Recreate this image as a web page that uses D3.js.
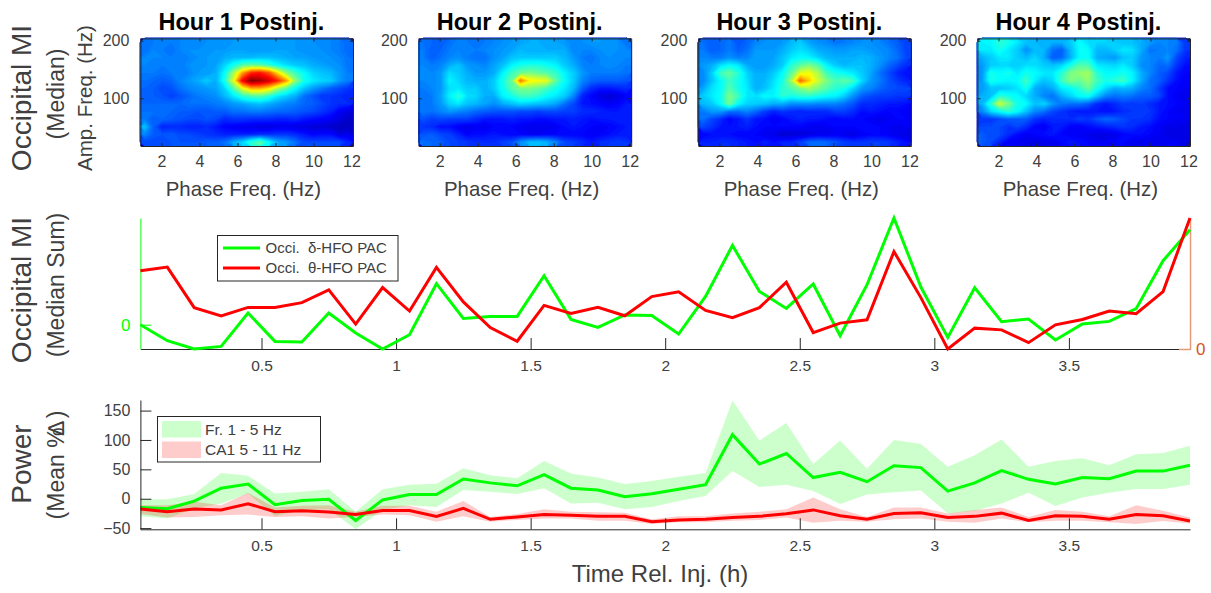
<!DOCTYPE html>
<html>
<head>
<meta charset="utf-8">
<script src="https://cdnjs.cloudflare.com/ajax/libs/d3/7.8.5/d3.min.js"></script>
<style>
html, body { margin: 0; background: #fff; }
svg { display: block; font-family: "Liberation Sans", sans-serif; }
.axis text { fill: #404040; }
.axis path, .axis line { stroke: #262626; }
</style>
</head>
<body>
<svg width="1211" height="593"></svg>
<script>
// heatmap cells, jet index 0-100, rows go top to bottom
const hour1 = [
  [24,25,25,25,26,26,26,27,27,27,28,28,28,28,28,28,28,28,27,27,26,26,25,23],
  [24,26,25,24,26,27,27,27,28,28,29,29,28,28,28,29,29,28,27,27,27,26,25,23],
  [26,26,26,25,25,26,27,28,28,30,31,31,31,32,32,31,30,29,29,28,27,27,26,24],
  [26,25,25,25,25,27,27,28,29,34,40,46,48,47,43,38,35,33,32,30,29,28,27,24],
  [25,25,24,25,25,26,28,28,30,38,54,72,84,86,80,66,52,44,38,34,32,31,28,25],
  [24,23,22,23,26,28,30,33,30,40,60,88,100,97,92,84,72,52,40,36,34,33,28,25],
  [23,22,20,21,24,26,27,28,29,34,46,60,70,70,65,54,46,38,32,28,25,22,20,18],
  [22,22,21,19,21,23,25,26,27,31,36,42,45,46,42,36,33,30,24,21,18,18,17,16],
  [23,23,23,23,23,24,24,24,25,26,28,29,31,32,30,28,26,25,23,22,20,18,17,17],
  [24,24,23,23,22,22,21,21,22,22,24,24,25,25,24,23,23,22,21,20,18,16,12,10],
  [25,22,23,22,21,20,20,21,20,17,18,18,17,17,17,16,16,17,15,14,13,12,10,8],
  [32,22,16,17,17,16,16,17,15,13,12,11,11,10,10,11,11,10,10,9,9,8,7,7],
  [26,22,21,22,20,20,19,18,17,16,16,16,16,17,17,18,18,17,15,13,14,14,10,11],
  [20,20,20,21,21,21,21,22,22,24,30,34,42,47,38,30,28,24,20,20,20,20,20,16]
];
const hour2 = [
  [24,23,22,24,26,25,24,25,26,27,28,29,30,30,29,29,28,26,27,28,28,27,27,24],
  [25,22,23,25,26,25,25,26,27,28,29,31,30,30,30,30,30,26,26,26,27,27,27,26],
  [25,22,24,26,27,25,24,24,27,29,32,33,33,33,33,33,31,28,25,24,26,27,26,26],
  [26,25,26,30,32,28,27,26,29,32,37,40,41,41,39,37,33,30,26,25,26,27,26,25],
  [27,26,28,35,33,30,28,28,30,37,44,48,50,48,46,43,37,33,28,25,25,25,25,24],
  [26,26,28,37,34,31,30,30,33,40,48,76,64,62,60,47,38,33,26,23,22,22,22,21],
  [25,26,28,35,36,33,33,30,33,39,46,50,50,48,44,40,36,31,22,17,15,15,16,17],
  [24,25,29,37,42,35,34,30,30,37,40,44,44,42,38,36,33,26,16,13,10,9,10,13],
  [24,25,28,34,36,32,31,29,27,30,32,34,33,32,31,29,24,20,15,14,13,12,13,15],
  [25,24,26,28,26,25,23,22,21,21,21,20,20,19,20,20,19,19,17,17,16,15,15,15],
  [21,19,20,19,19,19,17,15,15,15,16,15,15,14,14,15,15,16,15,14,15,15,16,16],
  [18,17,14,14,12,11,12,11,13,13,13,12,11,11,11,12,14,15,14,13,12,13,14,15],
  [21,22,20,19,16,13,14,14,15,14,13,13,12,12,13,13,13,13,13,12,13,14,15,15],
  [24,23,22,20,19,18,17,17,17,19,21,27,31,32,30,26,20,19,17,15,17,18,19,18]
];
const hour3 = [
  [24,22,23,25,21,23,26,27,27,28,31,33,29,27,26,24,25,26,27,27,26,24,22,19],
  [25,22,23,25,22,24,28,28,28,30,33,35,33,30,29,28,28,29,29,28,27,26,23,19],
  [26,25,25,27,25,26,29,28,29,32,36,38,37,34,31,30,30,30,31,30,28,26,24,20],
  [28,30,35,38,36,30,28,28,30,33,42,47,50,46,37,33,31,32,32,30,27,23,20,17],
  [26,33,44,48,42,34,30,30,33,38,47,60,62,55,44,40,38,36,33,29,24,20,16,14],
  [26,32,38,44,40,35,30,31,35,40,54,78,68,58,50,45,47,44,34,28,25,21,18,16],
  [29,35,38,46,40,36,30,32,36,42,46,50,54,50,46,42,40,34,28,26,23,21,20,20],
  [33,36,39,50,44,36,35,38,37,42,40,42,42,40,38,37,33,27,22,20,19,19,18,18],
  [31,33,38,49,38,34,33,32,30,30,27,27,27,26,26,26,24,21,17,17,16,15,15,14],
  [25,28,28,24,24,26,23,19,16,18,17,16,17,17,17,19,19,17,14,15,14,13,13,12],
  [24,20,17,13,15,18,15,14,12,13,15,16,15,15,14,13,14,14,13,12,11,12,13,13],
  [20,18,15,14,15,16,14,13,13,13,13,13,12,11,12,13,13,13,14,14,13,12,11,12],
  [13,14,14,14,13,13,13,11,11,8,9,9,10,11,11,12,11,10,12,13,13,12,11,10],
  [16,16,17,17,16,15,14,16,14,16,16,19,23,24,23,21,19,18,18,19,19,18,16,14]
];
const hour4 = [
  [37,38,42,40,36,32,31,30,30,30,33,38,35,34,34,33,32,32,30,28,26,26,25,18],
  [36,36,40,36,33,27,31,31,24,22,31,38,38,31,31,33,36,35,30,24,25,26,24,18],
  [30,33,36,36,33,31,34,30,22,23,30,38,39,30,29,28,32,33,28,26,25,28,20,16],
  [28,33,34,34,33,35,35,33,32,34,40,46,45,36,35,34,36,33,27,26,23,24,18,14],
  [27,40,38,40,36,40,38,36,36,42,50,52,54,42,38,38,40,37,30,26,22,20,15,13],
  [28,40,38,37,38,44,36,32,34,44,50,48,52,44,40,42,44,37,30,24,22,18,14,12],
  [28,32,32,33,35,40,30,28,30,36,38,42,48,40,34,30,31,30,26,24,19,14,13,12],
  [30,32,42,40,38,34,30,26,24,30,34,38,39,32,26,24,25,24,22,22,20,14,12,11],
  [30,42,58,50,40,38,32,34,28,25,24,24,22,17,15,17,19,18,19,17,15,14,13,12],
  [26,34,38,42,38,32,26,24,20,18,16,15,15,15,14,15,17,18,18,18,15,13,12,11],
  [18,18,20,22,22,22,18,16,17,17,17,19,18,21,23,22,20,18,18,17,14,13,12,12],
  [20,20,20,18,20,17,13,12,15,15,13,12,14,15,16,17,18,17,15,14,12,11,11,10],
  [22,20,20,17,14,12,13,14,15,13,12,12,11,10,10,11,13,14,14,13,12,10,10,10],
  [22,20,16,12,12,11,10,11,11,13,15,14,13,12,12,13,13,11,11,11,11,12,12,10]
];
const heatTitles = ["Hour 1 Postinj.", "Hour 2 Postinj.", "Hour 3 Postinj.", "Hour 4 Postinj."];
const phaseTicks = [2, 4, 6, 8, 10, 12];
const ampTicks = [100, 200];

const hours = [0.05,0.15,0.25,0.35,0.45,0.55,0.65,0.75,0.85,0.95,1.05,1.15,1.25,1.35,1.45,1.55,1.65,1.75,1.85,1.95,
  2.05,2.15,2.25,2.35,2.45,2.55,2.65,2.75,2.85,2.95,3.05,3.15,3.25,3.35,3.45,3.55,3.65,3.75,3.85,3.95];
const hourTicks = [0.5, 1, 1.5, 2, 2.5, 3, 3.5];

const deltaPac = [0,-16,-24.3,-21.7,11.7,-16.7,-17.3,11.7,-8.3,-24.3,-10,41,6.3,8.3,8.3,49,5.3,-2.7,9.7,9.3,
  -9.3,28.3,79.3,33.3,16.3,40.7,-11,40,106.7,37.7,-12.7,37,3,5.7,-15.3,0.7,3.3,16,64,95];
const thetaPac = [77.7,81.3,41,32.7,41.3,41.3,46,58.7,24.7,61,37.7,81,46.7,21.3,7.7,43.3,35.3,41.3,33,52,
  56.7,38.3,31,41,66.3,16.3,25.7,29,96.7,51,0,20.7,19,6.3,24,29.3,37.7,35,57,130];

const frMean = [-15,-17,-4,18,25,-10,-3,-1,-37,-2,7,7,33.5,27,22,41,18,15,3.5,8.5,
  16,24,109,59,77,36,45,29,56,53,13,27,48,33,25,36,34,47,47,57];
const frUpper = [-1,-1,8,44,39,9,12,16,-22,16,24,25.5,52,40,35,64,43,36,25,30,
  37.5,44,167,99,129,59,99,51,100,93,54.5,74,101,54.5,64,69,57,75.5,78,90];
const frLower = [-30,-33.5,-16.5,-8,9,-30,-19,-18,-52,-19,-11,-14,15,12,8,18,-8,-7,-18,-14,
  -4,4.5,47,20,24,13,-9,7,11,14,-25,-20.5,-8,10,-12.5,2,10,16.5,16.5,24];
const caMean = [-17.6,-22,-17.6,-19,-8.5,-22,-20.5,-22.7,-26.7,-20,-20,-30,-16.5,-35,-31,-26.7,-28,-30,-30,-39,
  -36,-35,-32,-30,-25.5,-19,-29,-35,-25,-24,-32,-30,-24.5,-37,-29,-30,-34.7,-26.7,-29,-38];
const caUpper = [-11,-11,-5,-11,10,-15,-12,-11,-22,-12,-12,-22,-4,-31,-26,-18,-22,-23,-24,-35,
  -30,-30,-25,-22,-18,2,-18,-31,-15,-15,-25,-19,-15,-31,-19,-22,-30,-11,-20.5,-32];
const caLower = [-26,-32,-31,-28,-27,-31,-30,-33.5,-31,-27,-28,-39,-30,-39,-36,-33.5,-33.5,-37.5,-37.5,-43,
  -40,-40,-37.5,-36,-32,-41,-37.5,-39,-35,-33.5,-39,-41,-33.5,-40,-37.5,-37.5,-40,-43,-38,-42];
const powerTicks = [-50, 0, 50, 100, 150];

const svg = d3.select("svg");

// matlab jet
const jet = d3.scaleLinear()
  .domain([0, 12.5, 37.5, 62.5, 87.5, 100])
  .range(["#000080", "#0000ff", "#00ffff", "#ffff00", "#ff0000", "#800000"])
  .clamp(true);

const heatLefts = [140.4, 418.6, 698.3, 977.4];
const heatW = 212.6, heatTop = 38.4, heatBottom = 146;
const ampY = d3.scaleLinear().domain([17, 204]).range([heatBottom, heatTop]);

function styleText(sel, size) {
  sel.selectAll("text").attr("font-size", size).attr("font-family", "Liberation Sans");
}

[hour1, hour2, hour3, hour4].forEach(function (cells, i) {
  const left = heatLefts[i];
  const phaseX = d3.scaleLinear().domain([0.89, 12.08]).range([left, left + heatW]);
  const cellX = d3.scaleLinear().domain([0, cells[0].length]).range([left, left + heatW]);
  const cellY = d3.scaleLinear().domain([0, cells.length]).range([heatTop, heatBottom]);
  const project = d3.geoTransform({
    point: function (x, y) { this.stream.point(cellX(x), cellY(y)); }
  });
  const path = d3.geoPath(project);

  const contours = d3.contours()
    .size([cells[0].length, cells.length])
    .thresholds(d3.range(2, 101, 1))
    (cells.flat());

  const g = svg.append("g");
  g.append("rect")
    .attr("x", left).attr("y", heatTop)
    .attr("width", heatW).attr("height", heatBottom - heatTop)
    .attr("fill", jet(d3.min(cells.flat())));
  g.selectAll("path")
    .data(contours)
    .enter()
    .append("path")
    .attr("d", path)
    .attr("fill", function (d) { return jet(d.value); })
    .attr("stroke", function (d) { return jet(d.value); })
    .attr("stroke-width", 0.3);

  const bottom = g.append("g").attr("class", "axis")
    .attr("transform", `translate(0,${heatBottom})`)
    .call(d3.axisBottom(phaseX).tickValues(phaseTicks).tickSizeInner(-3).tickSizeOuter(0).tickPadding(10));
  styleText(bottom, 16);
  g.append("g").attr("class", "axis")
    .attr("transform", `translate(0,${heatTop})`)
    .call(d3.axisTop(phaseX).tickValues(phaseTicks).tickSizeInner(-3).tickSizeOuter(0).tickFormat(""));
  const leftAxis = g.append("g").attr("class", "axis")
    .attr("transform", `translate(${left},0)`)
    .call(d3.axisLeft(ampY).tickValues(ampTicks).tickSizeInner(-3).tickSizeOuter(0).tickPadding(11));
  styleText(leftAxis, 16);
  g.append("g").attr("class", "axis")
    .attr("transform", `translate(${left + heatW},0)`)
    .call(d3.axisRight(ampY).tickValues(ampTicks).tickSizeInner(-3).tickSizeOuter(0).tickFormat(""));

  g.append("text")
    .attr("x", left + 101).attr("y", 29.5)
    .attr("text-anchor", "middle")
    .attr("font-size", 23.5).attr("font-weight", "bold").attr("fill", "#000")
    .text(heatTitles[i]);
  g.append("text")
    .attr("x", left + 103).attr("y", 196)
    .attr("text-anchor", "middle")
    .attr("font-size", 20.4).attr("fill", "#404040")
    .text("Phase Freq. (Hz)");
});

// rotated labels down the left side
function sideLabel(x, y, size, txt) {
  return svg.append("text")
    .attr("transform", `translate(${x},${y}) rotate(-90)`)
    .attr("text-anchor", "middle")
    .attr("font-size", size)
    .attr("fill", "#404040")
    .text(txt);
}
sideLabel(31, 98, 28, "Occipital MI");
sideLabel(64, 94, 23, "(Median)");
sideLabel(92, 98, 20.5, "Amp. Freq. (Hz)");
sideLabel(31, 290, 28, "Occipital MI");
sideLabel(64, 285, 23, "(Median Sum)");
sideLabel(31, 464, 28, "Power");
const meanLabel = sideLabel(64, 465, 23, "(Mean %");
meanLabel.append("tspan").attr("dx", -8).text("∆");
meanLabel.append("tspan").attr("dx", 3).text(")");

const plotLeft = 140.4, plotRight = 1190;
const timeX = d3.scaleLinear().domain([0.05, 3.95]).range([plotLeft, plotRight]);

// middle panel, two y axes on the same pixel range
const midTop = 218, midBottom = 349;
const deltaY = d3.scaleLinear().domain([-24.3, 106.7]).range([midBottom, midTop]);
const thetaY = d3.scaleLinear().domain([0, 130]).range([midBottom, midTop]);

const midLine = function (yScale) {
  return d3.line().x(function (d, i) { return timeX(hours[i]); }).y(function (d) { return yScale(d); });
};

const midAxis = svg.append("g").attr("class", "axis")
  .attr("transform", `translate(0,${midBottom})`)
  .call(d3.axisBottom(timeX).tickValues(hourTicks).tickSizeInner(-11).tickSizeOuter(0).tickPadding(11).tickFormat(d3.format("~g")));
styleText(midAxis, 15.5);

const deltaAxis = svg.append("g")
  .attr("transform", `translate(${plotLeft},0)`)
  .call(d3.axisLeft(deltaY).tickValues([0]).tickSizeInner(-11).tickSizeOuter(0).tickPadding(10));
deltaAxis.selectAll("path, line").attr("stroke", "#00ff00");
deltaAxis.selectAll("text").attr("fill", "#00ff00").attr("font-size", 17).attr("font-family", "Liberation Sans");

const thetaAxis = svg.append("g")
  .attr("transform", `translate(${plotRight},0)`)
  .call(d3.axisRight(thetaY).tickValues([0]).tickSizeInner(-11).tickSizeOuter(0).tickPadding(6));
thetaAxis.selectAll("path, line").attr("stroke", "#eb9a78").attr("stroke-width", 1.5);
thetaAxis.selectAll("text").attr("fill", "#d95319").attr("font-size", 17).attr("font-family", "Liberation Sans");

svg.append("path").datum(deltaPac).attr("d", midLine(deltaY))
  .attr("fill", "none").attr("stroke", "#00ff00").attr("stroke-width", 3);
svg.append("path").datum(thetaPac).attr("d", midLine(thetaY))
  .attr("fill", "none").attr("stroke", "#ff0000").attr("stroke-width", 3);

const midLegend = svg.append("g");
midLegend.append("rect")
  .attr("x", 217.5).attr("y", 235.5).attr("width", 180.5).attr("height", 45.5)
  .attr("fill", "#fff").attr("stroke", "#262626");
[["Occi.  δ-HFO PAC", "#00ff00", 248], ["Occi.  θ-HFO PAC", "#ff0000", 268]].forEach(function (row) {
  midLegend.append("line")
    .attr("x1", 223).attr("x2", 260).attr("y1", row[2]).attr("y2", row[2])
    .attr("stroke", row[1]).attr("stroke-width", 3);
  midLegend.append("text")
    .attr("x", 265.5).attr("y", row[2] + 5)
    .attr("font-size", 15).attr("fill", "#404040").style("white-space", "pre")
    .text(row[0]);
});

// bottom panel
const powTop = 400, powBottom = 529.3;
const powerY = d3.scaleLinear().domain([-52, 168]).range([powBottom, powTop]);

const band = function (upper, lower) {
  return d3.area()
    .x(function (d) { return timeX(d); })
    .y0(function (d, i) { return powerY(lower[i]); })
    .y1(function (d, i) { return powerY(upper[i]); })(hours);
};
svg.append("path").attr("d", band(frUpper, frLower)).attr("fill", "#00ff00").attr("fill-opacity", 0.2);
svg.append("path").attr("d", band(caUpper, caLower)).attr("fill", "#ff0000").attr("fill-opacity", 0.2);

const powLine = d3.line().x(function (d, i) { return timeX(hours[i]); }).y(function (d) { return powerY(d); });
svg.append("path").datum(frMean).attr("d", powLine)
  .attr("fill", "none").attr("stroke", "#00ff00").attr("stroke-width", 3);
svg.append("path").datum(caMean).attr("d", powLine)
  .attr("fill", "none").attr("stroke", "#ff0000").attr("stroke-width", 3);

const powBottomAxis = svg.append("g").attr("class", "axis")
  .attr("transform", `translate(0,${powBottom})`)
  .call(d3.axisBottom(timeX).tickValues(hourTicks).tickSizeInner(-11).tickSizeOuter(0).tickPadding(11).tickFormat(d3.format("~g")));
styleText(powBottomAxis, 15.5);
const powLeftAxis = svg.append("g").attr("class", "axis")
  .attr("transform", `translate(${plotLeft},0)`)
  .call(d3.axisLeft(powerY).tickValues(powerTicks).tickSizeInner(-11).tickSizeOuter(0).tickPadding(10));
styleText(powLeftAxis, 16);

const powLegend = svg.append("g");
powLegend.append("rect")
  .attr("x", 157.5).attr("y", 416.5).attr("width", 163).attr("height", 45.5)
  .attr("fill", "#fff").attr("stroke", "#262626");
[["Fr. 1 - 5 Hz", "#00ff00", 421], ["CA1 5 - 11 Hz", "#ff0000", 441.5]].forEach(function (row) {
  powLegend.append("rect")
    .attr("x", 162).attr("y", row[2]).attr("width", 39).attr("height", 16.5)
    .attr("fill", row[1]).attr("fill-opacity", 0.2);
  powLegend.append("text")
    .attr("x", 205).attr("y", row[2] + 13.5)
    .attr("font-size", 15.5).attr("fill", "#404040")
    .text(row[0]);
});

svg.append("text")
  .attr("x", 660).attr("y", 582)
  .attr("text-anchor", "middle")
  .attr("font-size", 24).attr("fill", "#404040")
  .text("Time Rel. Inj. (h)");
</script>
</body>
</html>
